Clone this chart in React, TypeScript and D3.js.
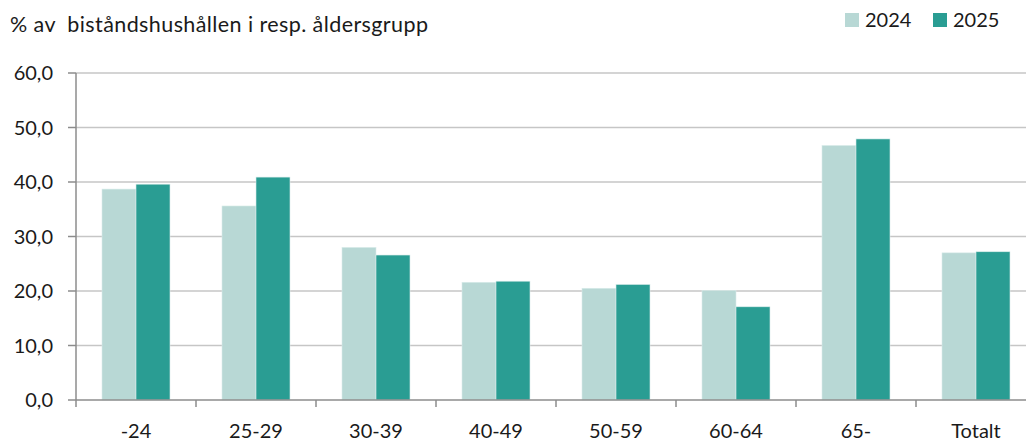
import React from "react";
import * as d3 from "d3";

const categories = ["-24", "25-29", "30-39", "40-49", "50-59", "60-64", "65-", "Totalt"];
const values2024 = [38.7, 35.6, 28.0, 21.6, 20.5, 20.1, 46.7, 27.0];
const values2025 = [39.6, 40.9, 26.6, 21.8, 21.2, 17.1, 47.9, 27.2];
const seriesNames = ["2024", "2025"];
const yTicks = [0, 10, 20, 30, 40, 50, 60];
const title = "% av  biståndshushållen i resp. åldersgrupp";

const colors = ["#b8d8d5", "#2a9d93"];
const W = 1026;
const H = 441;
const font = "Lato, 'Open Sans', sans-serif";

export default function App() {
  const left = 76;
  const right = 1036;
  const top = 73;
  const bottom = 400;
  const x = d3.scaleBand<string>().domain(categories).range([left, right]).paddingInner(0).paddingOuter(0);
  const y = d3.scaleLinear().domain([0, 60]).range([bottom, top]);
  const series = [values2024, values2025];
  const barW = 34;
  const fmt = (v: number) => d3.format(".1f")(v).replace(".", ",");

  return (
    <svg width={W} height={H} style={{ position: "absolute", left: 0, top: 0, background: "#fff" }}>
      <text
        x={10}
        y={32}
        fontFamily={font}
        fontSize={21.5}
        fill="#1a1a1a"
        textLength={418}
        lengthAdjust="spacing"
        style={{ whiteSpace: "pre" }}
      >
        {title}
      </text>
      {yTicks.map((t) => (
        <g key={t}>
          {t > 0 && <line x1={left} x2={W} y1={y(t)} y2={y(t)} stroke="#c6c6c6" strokeWidth={1.5} />}
          <line x1={68} x2={left} y1={y(t)} y2={y(t)} stroke="#8c8c8c" strokeWidth={1.5} />
          <text x={53} y={y(t)} dy="0.35em" textAnchor="end" fontFamily={font} fontSize={20} fill="#1a1a1a">
            {fmt(t)}
          </text>
        </g>
      ))}
      {categories.map((c, i) => {
        const cx = (x(c) as number) + x.bandwidth() / 2;
        return (
          <g key={c}>
            {series.map((s, j) => (
              <rect
                key={j}
                x={cx - barW + j * barW}
                y={y(s[i])}
                width={barW}
                height={y(0) - y(s[i])}
                fill={colors[j]}
                stroke="#d9ecea"
                strokeWidth={0.6}
              />
            ))}
            <text x={cx} y={438} textAnchor="middle" fontFamily={font} fontSize={20} fill="#1a1a1a">
              {c}
            </text>
          </g>
        );
      })}
      {categories.map((c) => (
        <line key={c} x1={x(c) as number} x2={x(c) as number} y1={bottom} y2={407} stroke="#8c8c8c" strokeWidth={1.5} />
      ))}
      <line x1={left} x2={left} y1={top} y2={bottom} stroke="#8c8c8c" strokeWidth={1.5} />
      <line x1={left} x2={W} y1={bottom} y2={bottom} stroke="#8c8c8c" strokeWidth={1.5} />
      {seriesNames.map((n, j) => (
        <g key={n} transform={`translate(${845 + j * 88},0)`}>
          <rect x={0} y={13} width={14} height={14} fill={colors[j]} />
          <text x={20} y={27} fontFamily={font} fontSize={20} fill="#1a1a1a">
            {n}
          </text>
        </g>
      ))}
    </svg>
  );
}
